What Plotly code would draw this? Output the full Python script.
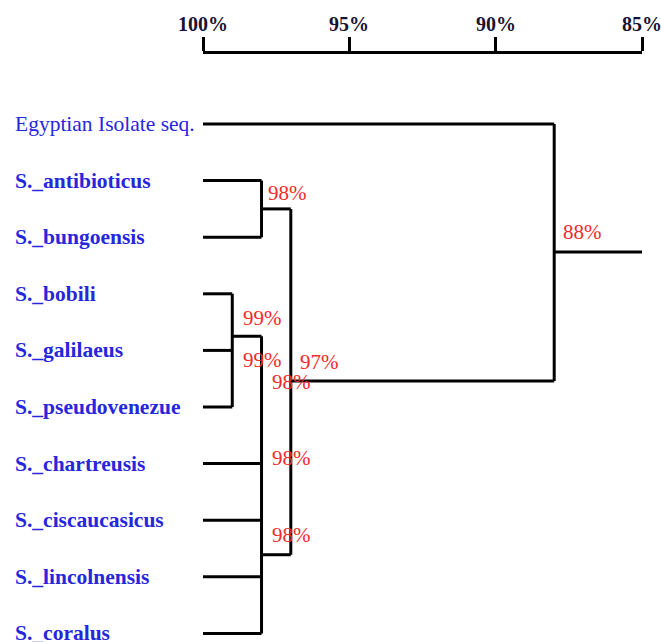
import plotly.graph_objects as go

# Leaves, top to bottom
leaf_names = [
    "Egyptian Isolate seq.", "S._antibioticus", "S._bungoensis", "S._bobili",
    "S._galilaeus", "S._pseudovenezue", "S._chartreusis", "S._ciscaucasicus",
    "S._lincolnensis", "S._coralus",
]

# Internal nodes: similarity (%), children (leaf index or node name), row where parent joins
node_names = ["n1", "n2", "n3", "n4", "n5"]
node_similarity = [98, 99, 98, 97, 88]
node_children = [[1, 2], [3, 4, 5], ["n2", 6, 7, 8, 9], ["n1", "n3"], [0, "n4"]]
node_join_row = [1.5, 3.75, 7.61, 4.54, 2.26]
root_similarity = 85
leaf_similarity = 100

# Support values printed next to branches
support_labels = ["98%", "99%", "99%", "97%", "98%", "98%", "98%", "88%"]
support_x = [97.13, 97.98, 97.98, 96.02, 96.96, 96.96, 96.96, 87.02]
support_row = [1.22, 3.43, 4.17, 4.20, 4.56, 5.90, 7.26, 1.91]

scale_ticks = [100, 95, 90, 85]
scale_labels = ["100%", "95%", "90%", "85%"]

W, H = 661, 642
SERIF = "Liberation Serif, Times New Roman, serif"

node_pos = {n: (s, r) for n, s, r in zip(node_names, node_similarity, node_join_row)}


def child_pos(c):
    if isinstance(c, str):
        return node_pos[c]
    return (leaf_similarity, c)


xs, ys = [], []
for n, sim, kids in zip(node_names, node_similarity, node_children):
    rows = [child_pos(k)[1] for k in kids]
    xs += [sim, sim, None]
    ys += [min(rows), max(rows), None]
    for k in kids:
        kx, ky = child_pos(k)
        xs += [kx, sim, None]
        ys += [ky, ky, None]
top_x, top_row = node_pos[node_names[-1]]
xs += [top_x, root_similarity]
ys += [top_row, top_row]

fig = go.Figure()
fig.add_trace(go.Scatter(x=xs, y=ys, mode="lines",
                         line=dict(color="black", width=3),
                         hoverinfo="skip", showlegend=False))
# Carrier trace for the similarity scale axis
fig.add_trace(go.Scatter(x=[scale_ticks[0], scale_ticks[-1]], y=[None, None],
                         xaxis="x2", yaxis="y", mode="markers",
                         marker=dict(opacity=0), hoverinfo="skip", showlegend=False))

for i, name in enumerate(leaf_names):
    bold = name.startswith("S._")
    fig.add_annotation(x=13 / W, xref="paper", y=i, yref="y",
                       text=f"<b>{name}</b>" if bold else name,
                       showarrow=False, xanchor="left", yanchor="middle",
                       font=dict(family=SERIF, size=21.5, color="#2626dc"))

for lab, sx, sr in zip(support_labels, support_x, support_row):
    fig.add_annotation(x=sx, y=sr, text=lab, showarrow=False,
                       xanchor="center", yanchor="middle",
                       font=dict(family=SERIF, size=21, color="#f22a2a"))

# Scale labels drawn as annotations so the last one may run past the edge
for t, lab in zip(scale_ticks, scale_labels):
    fig.add_annotation(x=t, xref="x2", y=1 - 24 / H, yref="paper",
                       text=f"<b>{lab}</b>", showarrow=False,
                       xanchor="center", yanchor="middle",
                       font=dict(family=SERIF, size=20, color="#1a1230"))

left_px, right_px = 203, 642
px_per_pct = (right_px - left_px) / (scale_ticks[0] - scale_ticks[-1])
row_px = 56.6
top_row_px = 124

fig.update_layout(
    width=W, height=H,
    margin=dict(l=0, r=0, t=0, b=0, autoexpand=False),
    plot_bgcolor="rgba(0,0,0,0)", paper_bgcolor="white",
    xaxis=dict(range=[100 + left_px / px_per_pct, 100 - (W - left_px) / px_per_pct],
               visible=False, domain=[0, 1], automargin=False),
    xaxis2=dict(domain=[left_px / W, right_px / W], range=[scale_ticks[0], scale_ticks[-1]],
                anchor="free", position=1 - 52 / H, side="top", automargin=False,
                showline=True, linewidth=3, linecolor="black",
                ticks="outside", ticklen=14, tickwidth=3, tickcolor="black",
                tickvals=scale_ticks, showticklabels=False,
                showgrid=False, zeroline=False),
    yaxis=dict(range=[(H - top_row_px) / row_px, -top_row_px / row_px],
               visible=False, domain=[0, 1], automargin=False),
)

fig.write_html("out.html")
